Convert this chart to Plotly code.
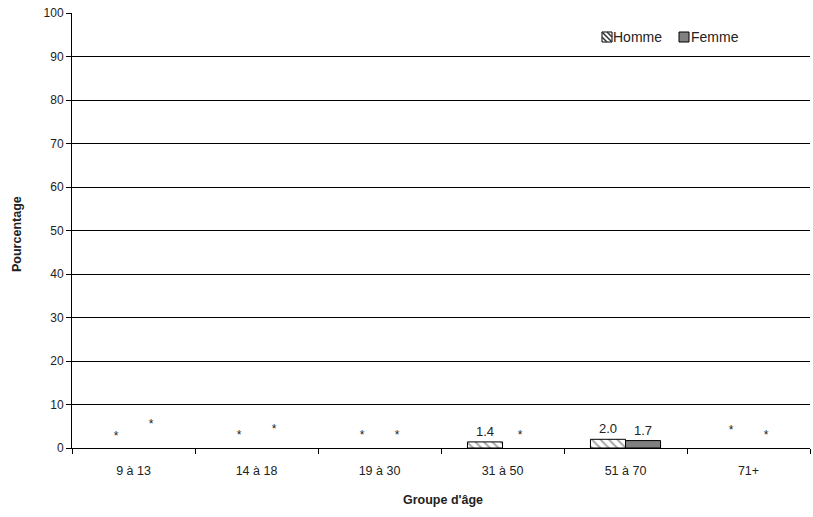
import plotly.graph_objects as go

categories = ["9 à 13", "14 à 18", "19 à 30", "31 à 50", "51 à 70", "71+"]
homme = [None, None, None, 1.4, 2.0, None]
femme = [None, None, None, None, 1.7, None]
# heights (in %) at which the "*" markers (suppressed estimates) appear
homme_star = [2.5, 2.8, 2.8, None, None, 3.9]
femme_star = [5.3, 4.2, 2.8, 2.8, None, 2.8]
y_ticks = [0, 10, 20, 30, 40, 50, 60, 70, 80, 90, 100]
series_names = ["Homme", "Femme"]

FONT = "Liberation Sans, Arial, sans-serif"
TXT = "#222"

fig = go.Figure()
fig.add_trace(go.Bar(
    name=series_names[0], x=categories, y=homme,
    marker=dict(color="white", line=dict(color="black", width=1),
                pattern=dict(shape="\\", fgcolor="#555555", bgcolor="white", size=6, solidity=0.35)),
    text=[f"{v:.1f}" if v is not None else "" for v in homme],
    textposition="outside", textfont=dict(size=13, color=TXT, family=FONT),
    cliponaxis=False, showlegend=False,
))
fig.add_trace(go.Bar(
    name=series_names[1], x=categories, y=femme,
    marker=dict(color="#808080", line=dict(color="black", width=1)),
    text=[f"{v:.1f}" if v is not None else "" for v in femme],
    textposition="outside", textfont=dict(size=13, color=TXT, family=FONT),
    cliponaxis=False, showlegend=False,
))

off = 0.142
hx = [i - off for i, v in enumerate(homme_star) if v is not None]
hy = [v for v in homme_star if v is not None]
fx = [i + off for i, v in enumerate(femme_star) if v is not None]
fy = [v for v in femme_star if v is not None]
fig.add_trace(go.Scatter(x=hx + fx, y=hy + fy, mode="text", text=["*"] * (len(hx) + len(fx)),
                         textfont=dict(size=12, color=TXT, family=FONT),
                         xaxis="x2", showlegend=False, hoverinfo="skip"))

# plot-area geometry (pixels) used to place the hand-made legend
L, R, T, B = 72, 810, 13, 448
def px(x):
    return (x - L) / (R - L)
def py(y):
    return (B - y) / (B - T)

shapes = [
    # Homme legend swatch: white square with diagonal hatch
    dict(type="rect", xref="paper", yref="paper", x0=px(602), x1=px(612), y0=py(42), y1=py(32),
         fillcolor="white", line=dict(color="black", width=1)),
    dict(type="line", xref="paper", yref="paper", x0=px(602), x1=px(612), y0=py(32), y1=py(42),
         line=dict(color="#333", width=1.5)),
    dict(type="line", xref="paper", yref="paper", x0=px(602), x1=px(607), y0=py(37), y1=py(42),
         line=dict(color="#333", width=1.5)),
    dict(type="line", xref="paper", yref="paper", x0=px(607), x1=px(612), y0=py(32), y1=py(37),
         line=dict(color="#333", width=1.5)),
    # Femme legend swatch
    dict(type="rect", xref="paper", yref="paper", x0=px(679), x1=px(689), y0=py(42), y1=py(32),
         fillcolor="#808080", line=dict(color="black", width=1)),
]

annotations = [
    dict(text=series_names[0], xref="paper", yref="paper", x=px(611), y=py(37),
         xanchor="left", yanchor="middle", showarrow=False,
         font=dict(size=14, family=FONT, color=TXT)),
    dict(text=series_names[1], xref="paper", yref="paper", x=px(689), y=py(37),
         xanchor="left", yanchor="middle", showarrow=False,
         font=dict(size=14, family=FONT, color=TXT)),
    dict(text="<b>Groupe d'âge</b>", xref="paper", yref="paper", x=px(443), y=py(500),
         xanchor="center", yanchor="middle", showarrow=False,
         font=dict(size=12.5, family=FONT, color=TXT)),
    dict(text="<b>Pourcentage</b>", xref="paper", yref="paper", x=px(17), y=py(234),
         xanchor="center", yanchor="middle", textangle=-90, showarrow=False,
         font=dict(size=12.5, family=FONT, color=TXT)),
]

fig.update_layout(
    width=813, height=517,
    margin=dict(l=L, r=813 - R, t=T, b=517 - B),
    paper_bgcolor="white", plot_bgcolor="white",
    barmode="group", bargap=0.43, bargroupgap=0,
    font=dict(family=FONT, size=12, color=TXT),
    showlegend=False,
    xaxis=dict(type="category", tickson="boundaries", ticks="outside", ticklen=5,
               tickcolor="black", showline=True, linecolor="black", linewidth=1,
               showgrid=False, range=[-0.5, 5.5], automargin=False, ticklabelstandoff=11,
               tickfont=dict(size=12.5, family=FONT, color=TXT)),
    xaxis2=dict(overlaying="x", range=[-0.5, 5.5], visible=False, showgrid=False, automargin=False),
    yaxis=dict(range=[0, 100], tickvals=y_ticks, ticks="outside", ticklen=5, tickcolor="black",
               showline=True, linecolor="black", linewidth=1, automargin=False,
               ticklabeloverflow="allow",
               showgrid=True, gridcolor="black", gridwidth=1, zeroline=False,
               tickfont=dict(size=12, family=FONT, color=TXT)),
    shapes=shapes,
    annotations=annotations,
)

fig.write_html("out.html", config={"displayModeBar": False},
               post_script="document.body.style.margin='0';")
